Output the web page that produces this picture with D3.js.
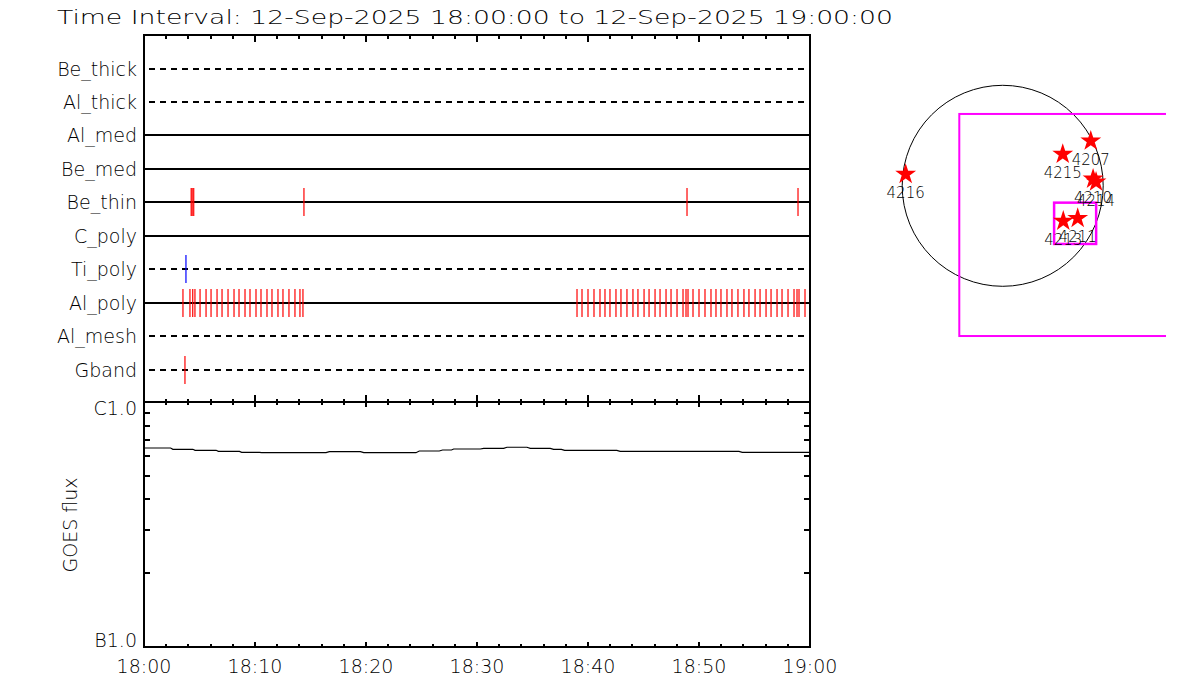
<!DOCTYPE html>
<html><head><meta charset="utf-8">
<script src="https://cdn.jsdelivr.net/npm/d3@7"></script>
<style>body{margin:0;background:#fff} text{font-family:"DejaVu Sans",sans-serif;font-weight:200;fill:#000}</style>
</head><body><svg id="c" width="1200" height="700"></svg>
<script>
const titleText = "Time Interval: 12-Sep-2025 18:00:00 to 12-Sep-2025 19:00:00";
const channels = ["Be_thick","Al_thick","Al_med","Be_med","Be_thin","C_poly","Ti_poly","Al_poly","Al_mesh","Gband"];
const channelDashed = [true,true,false,false,false,false,true,false,true,true];
// events, minutes after 18:00
const beThinTimes = [4.25,4.34,4.48,14.41,48.92,58.92];
const tiPolyTimes = [3.78];
const gbandTimes = [3.69];
const alPolyTimes = [3.51,4.14,4.39,4.59,5.05,5.59,6.04,6.58,7.03,7.57,8.11,8.56,9.10,9.55,10.09,10.54,11.08,11.53,12.07,12.52,13.06,13.60,14.05,14.32,
  39.01,39.46,40.00,40.54,41.08,41.53,41.98,42.52,42.97,43.51,44.05,44.50,45.05,45.50,46.04,46.49,47.03,47.48,48.02,48.56,48.83,49.01,
  49.46,50.00,50.54,51.08,51.53,51.98,52.52,52.97,53.51,54.05,54.50,55.05,55.50,56.04,56.49,57.03,57.48,58.02,58.56,58.83,59.01,59.55];
// GOES flux (W/m^2), minutes after 18:00
const goesTimes = [0,2.4,2.6,4.4,4.6,6.5,6.7,8.6,8.8,10.4,10.6,16.4,16.7,19.5,19.8,24.5,24.8,26.6,26.9,27.7,27.9,30.3,30.6,32.4,32.7,34.5,34.8,36.6,36.9,37.6,37.9,42.6,42.9,53.6,53.9,60];
const goesFlux = [6.49e-7,6.49e-7,6.41e-7,6.41e-7,6.35e-7,6.35e-7,6.29e-7,6.29e-7,6.23e-7,6.23e-7,6.21e-7,6.21e-7,6.27e-7,6.27e-7,6.21e-7,6.21e-7,6.31e-7,6.31e-7,6.37e-7,6.37e-7,6.43e-7,6.43e-7,6.47e-7,6.47e-7,6.535e-7,6.535e-7,6.47e-7,6.47e-7,6.41e-7,6.41e-7,6.35e-7,6.35e-7,6.29e-7,6.29e-7,6.23e-7,6.23e-7];
const goesTickLabels = ["B1.0","C1.0"];
const goesTickValues = [1e-7,1e-6];
const timeTickFormat = "%H:%M";
// active regions (arcsec)
const arNumbers = ["4216","4215","4207","4210","4214","4213","4211"];
const arX = [-921,570,836,858,886,575,712];
const arY = [119,309,435,74,46,-325,-299];
const fovOuter = [-412,682,1700,-1426];
const fovInner = [488,-160,887,-552];
const solarRadius = 954;

const svg = d3.select("#c");
const t0 = Date.UTC(2025,8,12,18,0,0);
const toDate = m => new Date(t0 + m*60000);
const X0 = 144, X1 = 810, YT = 35, YM = 402, YB = 647;
const x = d3.scaleUtc().domain([toDate(0), toDate(60)]).range([X0, X1]);
const yRow = d3.scalePoint().domain(channels).range([68.5, 369.5]);
const yG = d3.scaleLog().domain([1e-7,1e-6]).range([YB, YM]);

svg.append("text").attr("x",57).attr("y",24).attr("font-size",19)
  .attr("textLength",836).attr("lengthAdjust","spacingAndGlyphs").text(titleText);

// channel lines
channels.forEach((c,i)=>{
  const y = Math.round(yRow(c));
  if (channelDashed[i]) {
    svg.append("line").attr("x1",X0+5).attr("x2",X1-4).attr("y1",y).attr("y2",y)
      .attr("stroke","#000").attr("stroke-width",2).attr("stroke-dasharray","6,5");
  } else {
    svg.append("line").attr("x1",X0).attr("x2",X1).attr("y1",y).attr("y2",y)
      .attr("stroke","#000").attr("stroke-width",2);
  }
  svg.append("text").attr("x",137).attr("y",y+7).attr("text-anchor","end").attr("font-size",19).text(c);
});

const events = [];
beThinTimes.forEach(t=>events.push({ch:"Be_thin",t,color:"#ff0000"}));
tiPolyTimes.forEach(t=>events.push({ch:"Ti_poly",t,color:"#0000ff"}));
gbandTimes.forEach(t=>events.push({ch:"Gband",t,color:"#ff0000"}));
alPolyTimes.forEach(t=>events.push({ch:"Al_poly",t,color:"#ff0000"}));
svg.append("g").selectAll("line").data(events).join("line")
  .attr("x1",d=>x(toDate(d.t))).attr("x2",d=>x(toDate(d.t)))
  .attr("y1",d=>Math.round(yRow(d.ch))-14).attr("y2",d=>Math.round(yRow(d.ch))+14)
  .attr("stroke",d=>d.color).attr("stroke-width",1.2);

// frames
const frame = (y0,y1)=>svg.append("rect").attr("x",X0).attr("y",y0).attr("width",X1-X0).attr("height",y1-y0)
  .attr("fill","none").attr("stroke","#000").attr("stroke-width",2);
frame(YT,YM); frame(YM,YB);

// time ticks
const minor = x.ticks(d3.utcMinute.every(2));
const major = x.ticks(d3.utcMinute.every(10));
const isMajor = d => d.getUTCMinutes()%10===0;
const tg = svg.append("g").attr("stroke","#000").attr("stroke-width",2);
minor.forEach(d=>{
  const xx = Math.round(x(d)); const M = isMajor(d);
  tg.append("line").attr("x1",xx).attr("x2",xx).attr("y1",YT).attr("y2",YT+(M?7:4));
  tg.append("line").attr("x1",xx).attr("x2",xx).attr("y1",YM-(M?7:3)).attr("y2",YM+(M?5:3));
  tg.append("line").attr("x1",xx).attr("x2",xx).attr("y1",YB).attr("y2",YB-(M?5:3));
});
const fmt = d3.utcFormat(timeTickFormat);
svg.append("g").selectAll("text").data(major).join("text")
  .attr("x",d=>x(d)).attr("y",673).attr("text-anchor","middle").attr("font-size",19).text(d=>fmt(d));

// GOES log ticks
const gticks = yG.ticks().filter(v=>v>1e-7*1.01 && v<1e-6*0.99);
gticks.forEach(v=>{
  const yy = Math.round(yG(v));
  tg.append("line").attr("x1",X0).attr("x2",X0+6).attr("y1",yy).attr("y2",yy);
  tg.append("line").attr("x1",X1).attr("x2",X1-6).attr("y1",yy).attr("y2",yy);
});
svg.append("text").attr("x",137).attr("y",yG(goesTickValues[1])+13).attr("text-anchor","end").attr("font-size",19).text(goesTickLabels[1]);
svg.append("text").attr("x",137).attr("y",yG(goesTickValues[0])).attr("text-anchor","end").attr("font-size",19).text(goesTickLabels[0]);
svg.append("text").attr("transform","translate(77,525) rotate(-90)").attr("text-anchor","middle").attr("font-size",19).text("GOES flux");

const line = d3.line().x((d,i)=>x(toDate(goesTimes[i]))).y(d=>yG(d));
svg.append("path").attr("d",line(goesFlux)).attr("fill","none").attr("stroke","#000").attr("stroke-width",1.2);

// solar map
const cx = 1002.7, cy = 185.8, R = 100.5;
const sx = d3.scaleLinear().domain([-solarRadius,solarRadius]).range([cx-R,cx+R]);
const sy = d3.scaleLinear().domain([-solarRadius,solarRadius]).range([cy+R,cy-R]);
const defs = svg.append("defs");
defs.append("clipPath").attr("id","mapclip").append("rect").attr("x",860).attr("y",35).attr("width",306).attr("height",305);
const mg = svg.append("g").attr("clip-path","url(#mapclip)");
mg.append("circle").attr("cx",sx(0)).attr("cy",sy(0)).attr("r",sx(solarRadius)-sx(0)).attr("fill","none").attr("stroke","#000").attr("stroke-width",1);
mg.append("rect").attr("x",sx(fovOuter[0])).attr("y",sy(fovOuter[1])).attr("width",sx(fovOuter[2])-sx(fovOuter[0])).attr("height",sy(fovOuter[3])-sy(fovOuter[1]))
  .attr("fill","none").attr("stroke","#ff00ff").attr("stroke-width",2);
mg.append("rect").attr("x",sx(fovInner[0])).attr("y",sy(fovInner[1])).attr("width",sx(fovInner[2])-sx(fovInner[0])).attr("height",sy(fovInner[3])-sy(fovInner[1]))
  .attr("fill","none").attr("stroke","#ff00ff").attr("stroke-width",2.5);
const star = d3.symbol(d3.symbolStar).size(135);
arNumbers.forEach((n,i)=>{
  mg.append("path").attr("d",star()).attr("transform",`translate(${sx(arX[i])},${sy(arY[i])+1})`).attr("fill","#ff0000");
});
arNumbers.forEach((n,i)=>{
  mg.append("text").attr("x",sx(arX[i])).attr("y",sy(arY[i])+25).attr("text-anchor","middle").attr("font-size",15).text(n);
});
</script></body></html>
